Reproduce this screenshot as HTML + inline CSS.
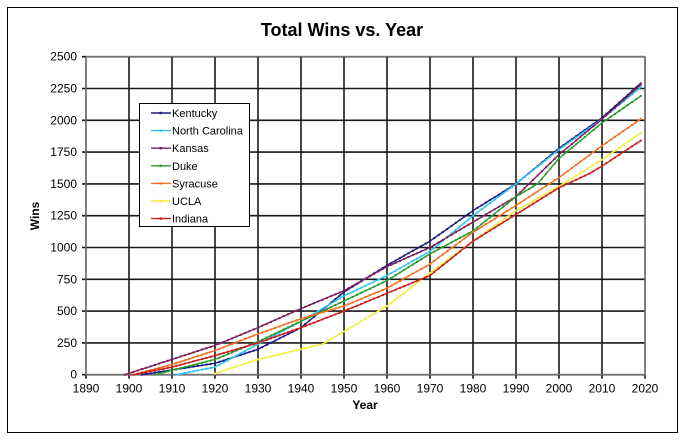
<!DOCTYPE html>
<html><head><meta charset="utf-8"><style>
html,body{margin:0;padding:0;background:#fff;}
svg{display:block;font-family:"Liberation Sans",sans-serif;}
</style></head><body>
<svg id="c" width="685" height="441" xmlns="http://www.w3.org/2000/svg">
<rect x="0" y="0" width="685" height="441" fill="#fff"/>
<rect x="7.5" y="7.5" width="670" height="425" fill="none" stroke="#000" stroke-width="1"/>
<text x="342" y="36" text-anchor="middle" font-size="18" font-weight="bold">Total Wins vs. Year</text>
<g id="grid"></g>
<g id="series"></g>
<text x="365" y="409" text-anchor="middle" font-size="12" font-weight="bold">Year</text>
<text transform="translate(39,216) rotate(-90)" text-anchor="middle" font-size="12" font-weight="bold">Wins</text>
<g id="legend"></g>
</svg>
<script>
var L=86,R=645,T=56.7,B=374.7;
function X(y){return L+(y-1890)*(R-L)/130;}
function Y(v){return B-v*(B-T)/2500;}
var g='';
for(var v=0;v<=2500;v+=250){var y=Y(v);g+='<line x1="'+(L-4)+'" y1="'+y+'" x2="'+R+'" y2="'+y+'" stroke="#1a1a1a" stroke-width="1.6"/>';
g+='<text x="'+(L-9)+'" y="'+(y+4)+'" text-anchor="end" font-size="12">'+v+'</text>';}
for(var yr=1890;yr<=2020;yr+=10){var x=X(yr);g+='<line x1="'+x+'" y1="'+T+'" x2="'+x+'" y2="'+(B+4)+'" stroke="#1a1a1a" stroke-width="1.6"/>';
g+='<text x="'+x+'" y="'+(B+18)+'" text-anchor="middle" font-size="12">'+yr+'</text>';}
g+='<rect x="'+L+'" y="'+T+'" width="'+(R-L)+'" height="'+(B-T)+'" fill="none" stroke="#888" stroke-width="1"/>';
document.getElementById('grid').innerHTML=g;
var S=[
["Kentucky","#1a1a80",[[1903,0],[1920,90],[1930,200],[1940,370],[1950,650],[1960,860],[1970,1050],[1980,1290],[1990,1500],[2000,1780],[2010,2020],[2019,2290]]],
["North Carolina","#33c3f0",[[1911,0],[1920,60],[1930,240],[1940,420],[1950,620],[1960,780],[1970,970],[1980,1250],[1990,1500],[2000,1770],[2010,2010],[2019,2260]]],
["Kansas","#7a1f5c",[[1899,0],[1910,120],[1920,230],[1930,370],[1940,520],[1950,660],[1960,850],[1970,1000],[1980,1200],[1990,1400],[2000,1730],[2010,2010],[2019,2280]]],
["Duke","#2a9a2a",[[1906,0],[1920,120],[1930,260],[1940,420],[1950,580],[1960,740],[1970,950],[1980,1130],[1990,1400],[1995,1500],[2000,1700],[2010,1980],[2019,2190]]],
["Syracuse","#f07020",[[1901,0],[1910,80],[1920,190],[1930,320],[1940,440],[1950,540],[1960,680],[1970,870],[1980,1120],[1990,1330],[2000,1550],[2010,1800],[2019,2010]]],
["UCLA","#f0f040",[[1920,10],[1930,120],[1940,200],[1945,240],[1950,340],[1960,540],[1970,800],[1980,1050],[1990,1290],[2000,1480],[2010,1690],[2019,1900]]],
["Indiana","#c81e1e",[[1901,0],[1910,60],[1920,150],[1930,250],[1940,370],[1950,500],[1960,640],[1970,780],[1980,1050],[1990,1260],[2000,1470],[2007,1580],[2010,1640],[2019,1840]]]];
var s='';
S.forEach(function(se){var a=se[2],pts=[];
for(var i=0;i<a.length-1;i++){var y0=a[i][0],v0=a[i][1],y1=a[i+1][0],v1=a[i+1][1];
for(var yr=y0;yr<y1;yr++){pts.push([yr,v0+(v1-v0)*(yr-y0)/(y1-y0)]);}}
pts.push(a[a.length-1]);
var d=pts.map(function(p){return X(p[0]).toFixed(1)+','+Y(p[1]).toFixed(1);}).join(' ');
s+='<polyline points="'+d+'" fill="none" stroke="'+se[1]+'" stroke-width="1.4"/>';
pts.forEach(function(p){s+='<rect x="'+(X(p[0])-1).toFixed(1)+'" y="'+(Y(p[1])-1).toFixed(1)+'" width="2" height="2" fill="'+se[1]+'"/>';});});
document.getElementById('series').innerHTML=s;
var l='<rect x="139.5" y="103.5" width="110" height="123" fill="#fff" stroke="#000" stroke-width="1"/>';
S.forEach(function(se,i){var y=113+i*17.6;
l+='<line x1="151" y1="'+y+'" x2="171" y2="'+y+'" stroke="'+se[1]+'" stroke-width="1.4"/><rect x="159.5" y="'+(y-1.2)+'" width="2.4" height="2.4" fill="'+se[1]+'"/>';
l+='<text x="172" y="'+(y+4)+'" font-size="11">'+se[0]+'</text>';});
document.getElementById('legend').innerHTML=l;
</script>
</body></html>
